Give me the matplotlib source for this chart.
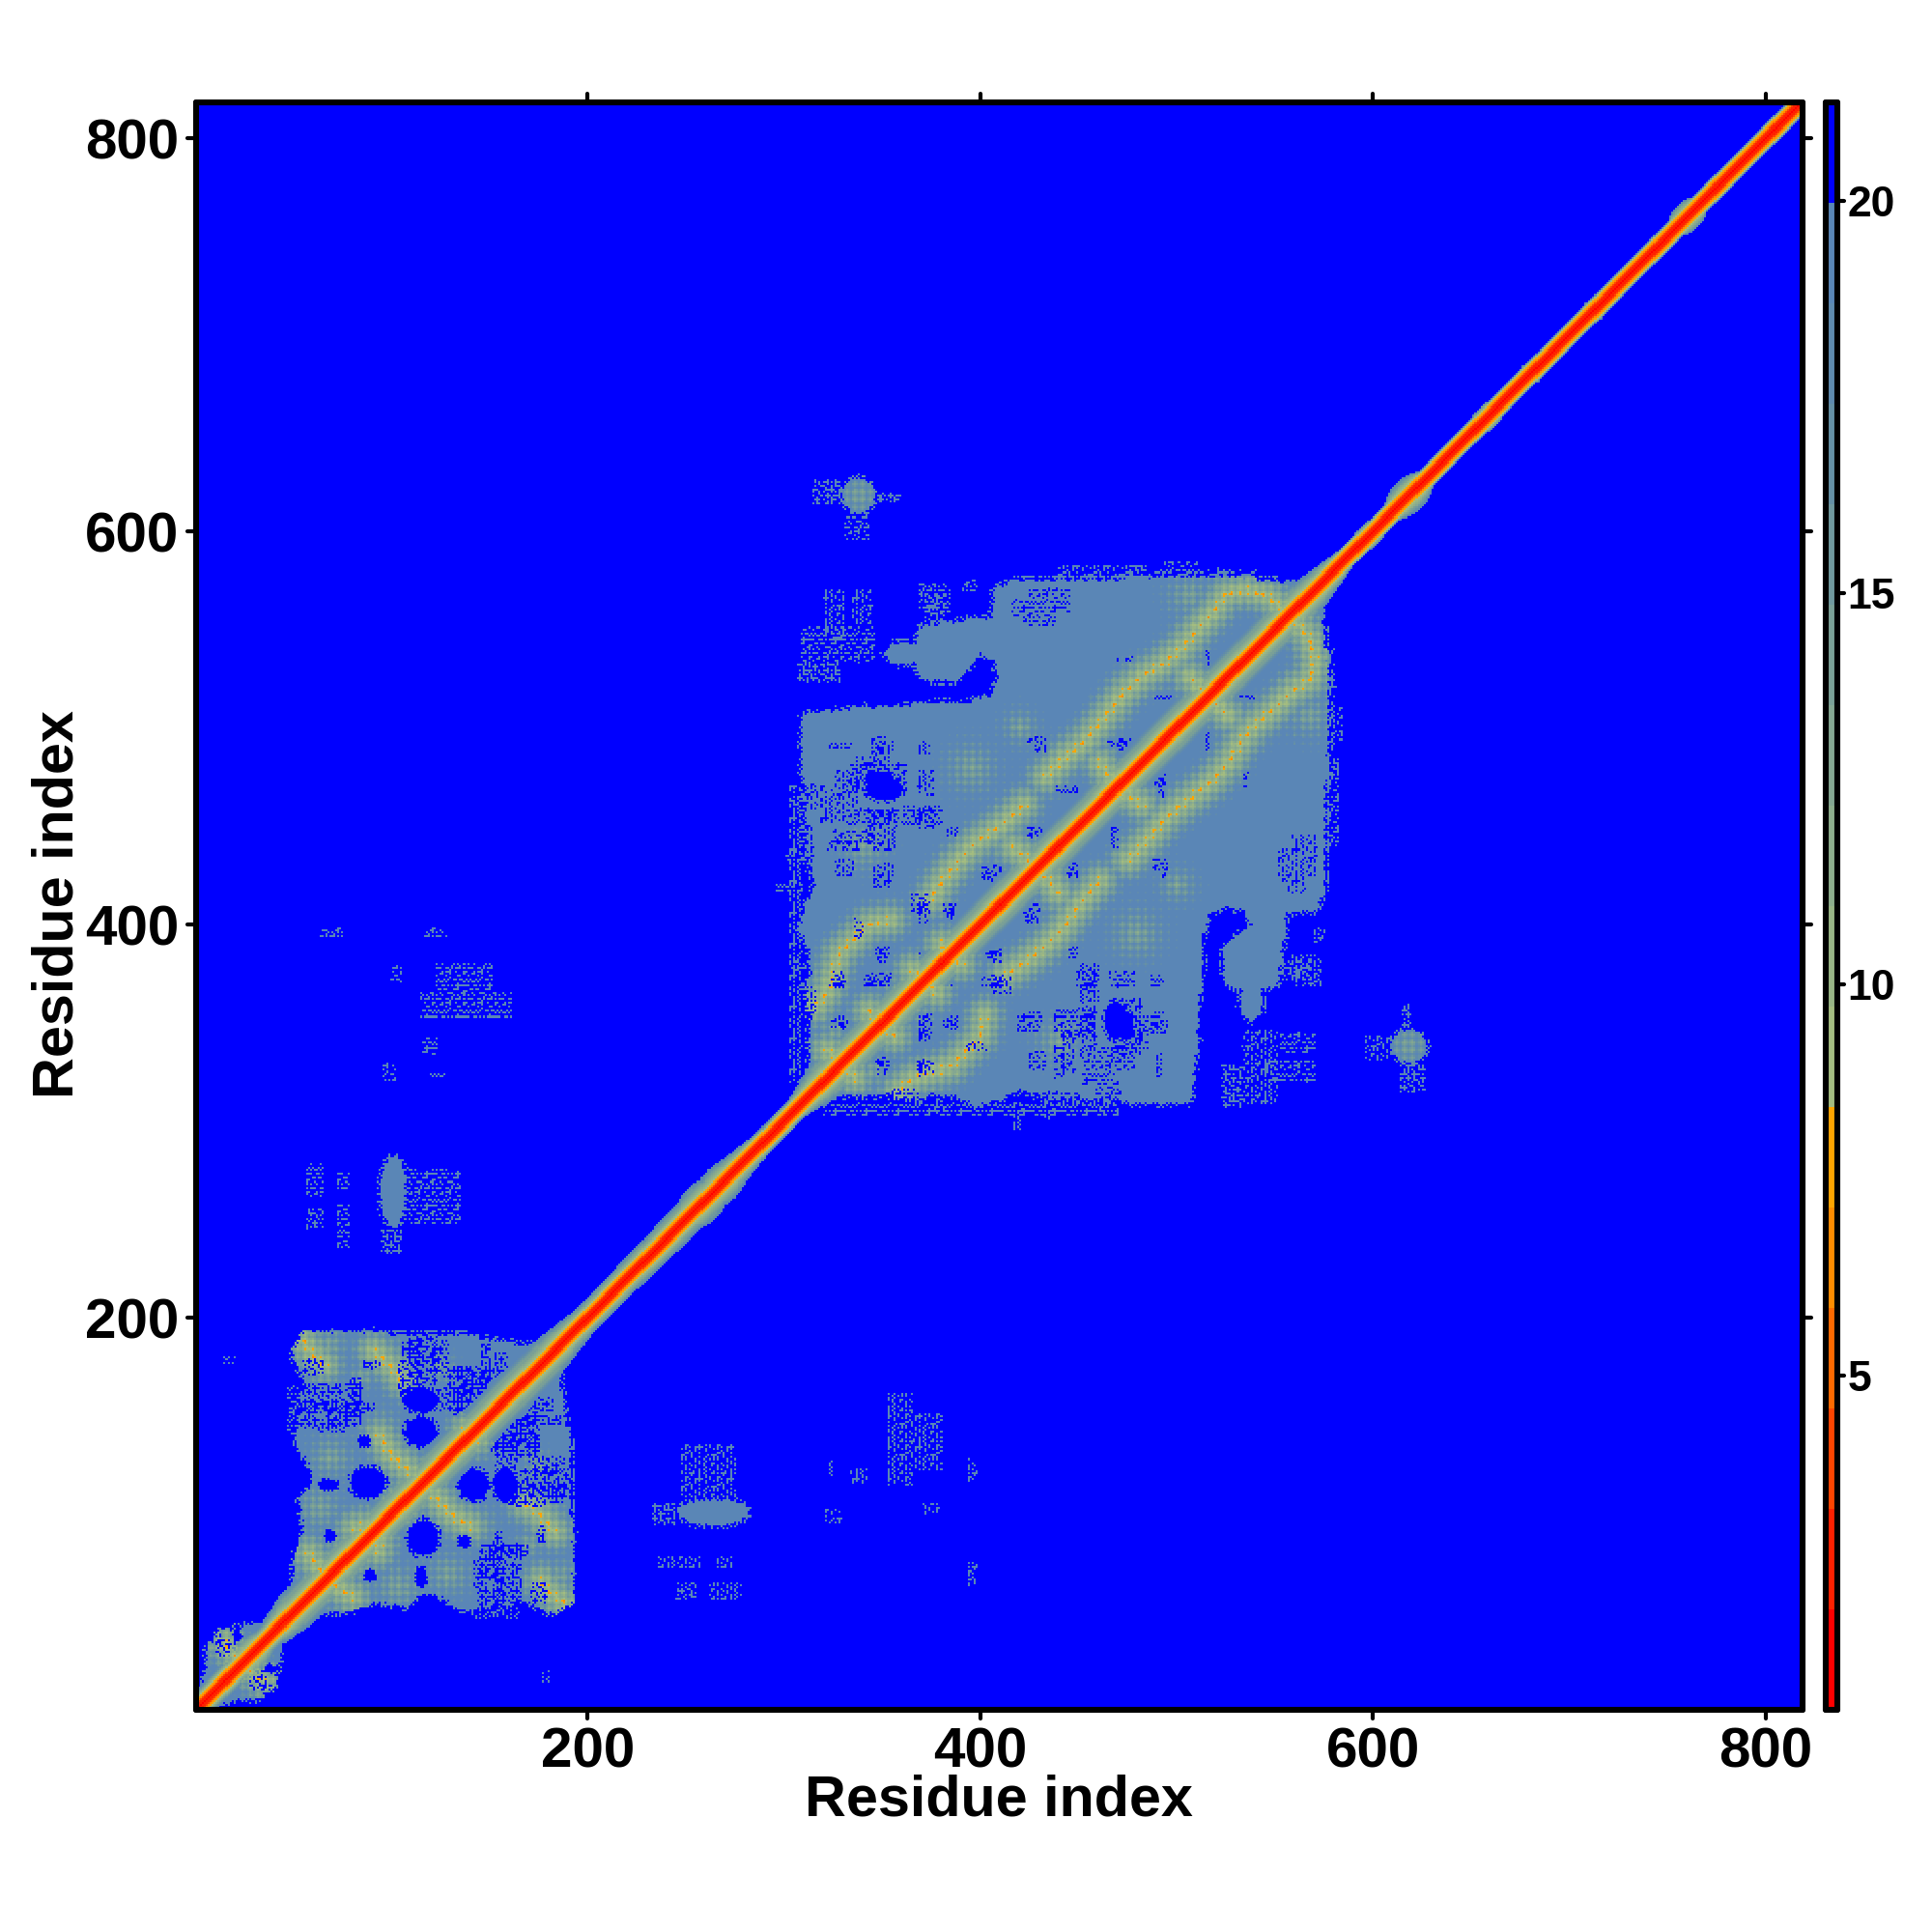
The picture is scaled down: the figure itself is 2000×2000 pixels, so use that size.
import numpy as np
import matplotlib
matplotlib.use("Agg")
import matplotlib.pyplot as plt
from matplotlib.colors import ListedColormap, BoundaryNorm
from matplotlib.markers import MarkerStyle
from matplotlib.path import Path

plt.rcParams['font.family'] = ['Liberation Sans', 'DejaVu Sans']

n_residues = 819
x_ticks = [200, 400, 600, 800]
bar_ticks = [5, 10, 15, 20]
bar_low, bar_high = 0.73, 21.27
level_colors = ['#ff0000', '#ff2100', '#ff4500', '#ff6a00', '#ff8c00', '#ffa500',
                '#a3bc80', '#98b585', '#8dae8c', '#84a791', '#7aa096', '#70999e',
                '#6590a5', '#5f8aae', '#5a86b6', '#0000ff']

# contact domains, upper-left half, residue outlines
domain_n = [(1, 12), (5, 19), (5, 33), (12, 41), (30, 44), (40, 49), (46, 49), (46, 46)]
domain_1 = [(46, 50), (49, 65), (50, 78), (55, 94), (52, 108), (60, 116), (57, 126), (51, 135),
            (52, 152), (56, 166), (49, 181), (55, 192), (91, 193), (107, 191), (133, 192),
            (150, 189), (169, 186), (184, 188), (190, 190)]
domain_2 = [(305, 306), (312, 315), (313, 351), (310, 368), (314, 375), (312, 388), (307, 398),
            (310, 407), (315, 420), (310, 437), (311, 465), (308, 480), (309, 507), (341, 511),
            (356, 510), (369, 513), (392, 513), (405, 517), (409, 524), (407, 533), (400, 537),
            (394, 529), (388, 524), (377, 523), (369, 526), (366, 533), (356, 531), (350, 537),
            (354, 543), (367, 544), (368, 551), (392, 555), (405, 556), (407, 571), (416, 575),
            (435, 575), (454, 575), (473, 576), (501, 578), (529, 577), (574, 573), (576, 576)]
outlines = [domain_n, domain_1, domain_2]

# isolated blobs off the diagonal: centre x, centre y, radius x, radius y
blobs = [(101, 264, 7, 18), (338, 618, 9, 9)]
# lumps on the diagonal: centre, radius
diag_bumps = [(618, 13), (598, 9), (760, 11), (712, 8), (258, 15), (268, 14), (658, 9), (680, 8),
              (205, 11), (228, 11), (300, 9), (28, 14), (620, 10)]

# helical ridges, residue polylines
ridges = [
    [(546, 567), (535, 570), (525, 568), (518, 558), (510, 550), (501, 539), (491, 531), (482, 526),
     (473, 518), (463, 505), (454, 494), (444, 486), (433, 475)],
    [(422, 461), (410, 450), (397, 441), (388, 432), (379, 420), (375, 413)],
    [(354, 402), (343, 400), (333, 390), (328, 385), (322, 366), (316, 358)],
    [(506, 526), (512, 520), (521, 511), (529, 497)],
    [(461, 482), (467, 473), (482, 460)],
    [(416, 439), (422, 435), (433, 420), (442, 415)],
    [(380, 390), (388, 379)],
    [(365, 377), (375, 368)],
    [(343, 356), (358, 341)],
    [(322, 336), (343, 317)],
    [(401, 358), (397, 345), (384, 334), (363, 323), (358, 319)],
    [(546, 567), (552, 562), (560, 555), (568, 548)],
    [(55, 188), (61, 180), (66, 176)],
    [(91, 183), (102, 173), (105, 168)],
    [(94, 140), (100, 130), (109, 122)],
    [(58, 80), (64, 71), (70, 66)],
    [(104, 73), (107, 68)],
    [(123, 71), (130, 75)],
    [(81, 93), (86, 94)],
    [(138, 143), (145, 142)],
    [(15, 35), (20, 28), (27, 22)],
]

# textured areas without a clear ridge: centre x, centre y, radius
soft_patches = [(395, 479, 14), (341, 439, 12), (435, 339, 12), (506, 567, 12), (473, 407, 14), (338, 618, 11),
                (420, 500, 10), (360, 365, 14), (405, 330, 12), (325, 345, 10), (340, 325, 10),
                (68, 186, 10), (69, 129, 12), (63, 103, 13), (102, 71, 13), (125, 71, 11), (174, 103, 11),
                (174, 67, 12), (181, 130, 7), (97, 181, 12), (85, 170, 8), (140, 120, 11), (100, 110, 11),
                (62, 70, 12), (75, 85, 12), (150, 95, 10), (95, 145, 10), (125, 175, 8)]

# diagonal band: residue where a segment changes, reach of the band from the diagonal
band_start = [1, 40, 50, 180, 200, 240, 270, 290, 305, 320, 565, 585, 630, 819]
band_reach = [10, 10, 15, 15, 10, 12, 13, 8, 8, 15, 15, 8, 7, 7]

# empty holes: centre x, centre y, radius x, radius y
hole_ellipses = [(88, 116, 9, 8), (68, 115, 5, 3), (115, 142, 8, 7.5), (115, 158, 9, 6), (86, 137, 3, 3),
                 (89, 69, 3, 3), (469, 351, 6, 9), (348, 474, 7, 4), (21, 39, 2, 3), (38, 22, 2, 2)]

# noisy gaps inside the domains: centre x, centre y, half length x, half length y
gap_patches = [(426, 561, 10, 4), (427, 494, 4, 1), (348, 490, 3, 6), (328, 491, 6, 1), (444, 468, 5, 2),
               (469, 492, 5, 1), (427, 447, 3, 2), (468, 447, 1, 4), (493, 516, 4, 1), (535, 516, 4, 1),
               (491, 473, 3, 3), (535, 473, 1, 4), (491, 430, 3, 3), (369, 411, 4, 5), (384, 407, 3, 3),
               (426, 407, 4, 3), (446, 428, 2, 3), (403, 426, 2, 3), (371, 349, 2, 6), (328, 350, 4, 2),
               (350, 330, 3, 2), (371, 328, 3, 3), (384, 350, 3, 2), (350, 385, 3, 3), (405, 385, 3, 2),
               (447, 385, 2, 3), (384, 371, 2, 2), (348, 372, 7, 3), (326, 372, 3, 4), (407, 371, 6, 3),
               (490, 351, 3, 4), (490, 371, 3, 3), (454, 371, 5, 5), (472, 372, 6, 4), (429, 330, 4, 5),
               (469, 332, 9, 6), (435, 565, 10, 6), (430, 555, 8, 3), (425, 350, 6, 5), (448, 350, 10, 7),
               (480, 345, 5, 8), (460, 325, 8, 6), (345, 455, 13, 4), (370, 455, 10, 5), (335, 445, 10, 3),
               (348, 474, 14, 8), (440, 330, 2, 8), (465, 312, 6, 8), (338, 398, 2, 5), (360, 310, 8, 6),
               (432, 310, 18, 5),
               (71, 154, 20, 2), (79, 158, 2, 8), (83, 158, 2, 8), (139, 163, 12, 4), (148, 176, 2, 10),
               (156, 170, 3, 12), (112, 180, 3, 10), (169, 143, 6, 9), (178, 119, 12, 4), (157, 81, 12, 3),
               (145, 70, 3, 8), (152, 75, 6, 8), (160, 65, 6, 10), (90, 176, 4, 2), (125, 180, 4, 8),
               (135, 172, 8, 3), (132, 158, 8, 5), (157, 137, 6, 5), (165, 150, 6, 6), (170, 110, 8, 6),
               (184, 110, 4, 4), (175, 60, 4, 5), (150, 55, 6, 6), (120, 55, 4, 4), (60, 155, 8, 2),
               (70, 150, 2, 6), (32, 14, 4, 3), (10, 37, 3, 2), (34, 19, 3, 3)]

# sparse speckle: x from, x to, y from, y to, density (1 thin, 2 full)
speckles = [(369, 384, 558, 573, 1), (391, 398, 570, 575, 1), (315, 328, 614, 626, 2),
            (348, 359, 615, 619, 2), (331, 343, 596, 608, 1), (307, 328, 523, 533, 2),
            (309, 346, 533, 551, 1), (95, 105, 233, 244, 2), (109, 135, 248, 275, 1),
            (57, 65, 262, 278, 1), (57, 65, 245, 255, 2), (73, 78, 266, 274, 1), (73, 78, 235, 257, 1),
            (123, 151, 365, 380, 1), (115, 161, 353, 365, 1), (100, 105, 371, 379, 1),
            (116, 123, 334, 342, 1), (96, 102, 321, 329, 1), (120, 127, 322, 325, 1),
            (117, 128, 393, 398, 1), (64, 75, 394, 398, 1), (15, 20, 176, 180, 1),
            (494, 510, 578, 584, 1), (476, 484, 577, 582, 2), (520, 526, 577, 581, 2),
            (296, 309, 416, 421, 1), (301, 311, 433, 437, 1), (303, 311, 377, 381, 1), (304, 311, 460, 465, 1),
            (545, 570, 320, 330, 1), (553, 570, 335, 345, 1), (550, 568, 372, 382, 1),
            (574, 582, 440, 480, 1), (574, 580, 490, 540, 1), (47, 52, 140, 165, 1), (320, 470, 303, 309, 1)]

speckle_tile = ["..#...#..#....#.",
                "###.#.#####.#.#.",
                "..#...#.....#...",
                "#.....#..#.###..",
                "#.####.#.#..#..#",
                "..#....#.#......",
                ".##.#...##.#.##.",
                "..#.#....#...#..",
                "#...###.....###.",
                "..#.#...#.#..#..",
                ".###.#####.#...#",
                "..#.....#.....#.",
                "#...#.#.#..#..#.",
                ".#####..#.####..",
                ".#..#.....#.....",
                "#...#.###.#.#..#"]

# ---------------------------------------------------------------------------
size = n_residues
xx, yy = np.meshgrid(np.arange(1, size + 1), np.arange(1, size + 1))
cells = np.column_stack([xx.ravel(), yy.ravel()])
field = np.full((size, size), 21.0)

tile = np.array([[c == '#' for c in row] for row in speckle_tile])
dense = tile[yy % 16, xx % 16]
thin = dense & tile[(yy + 5) % 16, (xx + 3) % 16] | (tile[(yy + 9) % 16, xx % 16] & tile[yy % 16, (xx + 11) % 16])


def grow(m, steps=1):
    for _ in range(steps):
        g = m.copy()
        g[1:, :] |= m[:-1, :]
        g[:-1, :] |= m[1:, :]
        g[:, 1:] |= m[:, :-1]
        g[:, :-1] |= m[:, 1:]
        m = g
    return m


mask = np.zeros((size, size), bool)
for outline in outlines:
    mask |= Path(outline).contains_points(cells).reshape(size, size)
for cx, cy, rx, ry in blobs:
    mask |= ((xx - cx) / rx) ** 2 + ((yy - cy) / ry) ** 2 <= 1
mask |= mask.T
# jagged rims
outer = grow(mask, 2) & ~mask
inner = mask & grow(~mask, 1)
mask = (mask & ~(inner & thin)) | (outer & thin)
field[mask] = 19.3

lattice = np.array([-1.5, 0.0, 1.5, 0.0])
texture = lattice[xx % 4] + lattice[yy % 4]


def segment_distance(p, q):
    dx, dy = q[0] - p[0], q[1] - p[1]
    t = ((xx - p[0]) * dx + (yy - p[1]) * dy) / max(dx * dx + dy * dy, 1)
    t = np.clip(t, 0, 1)
    return np.hypot(xx - p[0] - t * dx, yy - p[1] - t * dy)


for ridge in ridges:
    for p, q in zip(ridge[:-1], ridge[1:]):
        layer = 9.5 + 0.8 * segment_distance(p, q) + texture
        field = np.where(mask, np.minimum(field, layer), field)
for cx, cy, r in soft_patches:
    layer = 14.5 + 4.5 * np.hypot(xx - cx, yy - cy) / r + texture
    field = np.where(mask, np.minimum(field, layer), field)


def paint_both(sel, value):
    field[sel | sel.T] = value


for cx, cy, rx, ry in hole_ellipses:
    rim = ((xx - cx) / rx) ** 2 + ((yy - cy) / ry) ** 2
    paint_both((rim <= 1) | ((rim <= 1.5) & dense), 21.0)
for cx, cy, hx, hy in gap_patches:
    rect = (np.abs(xx - cx) <= hx) & (np.abs(yy - cy) <= hy)
    paint_both(rect & (thin if cx > 300 else dense), 21.0)

for x0, x1, y0, y1, level in speckles:
    rect = (xx >= x0) & (xx <= x1) & (yy >= y0) & (yy <= y1)
    sel = rect & (dense if level == 2 else thin)
    sel = sel | sel.T
    field[sel] = np.minimum(field[sel], 19.3)

upper = yy >= xx
field = np.where(upper, field, field.T)

# diagonal band drawn last so that it stays whole
centre = (xx + yy) / 2
reach = np.interp(centre, band_start, band_reach)
for c, r in diag_bumps:
    reach = np.maximum(reach, r * np.clip(1 - (np.abs(centre - c) / r) ** 2, 0, 1))
offset = np.abs(xx - yy).astype(float)
t = np.clip((offset - 6.2) / np.maximum(reach - 6.2, 0.5), 0, None)
band = np.interp(offset, [0, 2.2, 3.6, 5.0, 6.2], [1.5, 3.0, 5.4, 7.6, 9.5])
band = np.where(offset > 6.2, 9.5 + 9.8 * t, band)
band[offset > np.maximum(reach, 7)] = 21.0
field = np.minimum(field, band)

levels = np.linspace(bar_low, bar_high, len(level_colors) + 1)
cmap = ListedColormap(level_colors)
norm = BoundaryNorm(levels, cmap.N)

fig = plt.figure(figsize=(10, 10), dpi=200)
W = H = 2000.0
ax = fig.add_axes([202.5 / W, 1 - 1770 / H, 1664 / W, 1664.5 / H])
ax.imshow(field, origin='lower', extent=(0.5, size + 0.5, 0.5, size + 0.5), cmap=cmap, norm=norm,
          interpolation='nearest', aspect='auto')
ax.set_xlim(0.3, 819)
ax.set_ylim(0.5, 818.5)
ax.set_xticks(x_ticks)
ax.set_yticks(x_ticks)
ax.tick_params(top=True, right=True, length=3.2, width=1.5, labelsize=21, pad=3)
for label in ax.get_xticklabels() + ax.get_yticklabels():
    label.set_fontweight('bold')

cax = fig.add_axes([1889.5 / W, 1 - 1770 / H, 12 / W, 1664.5 / H])
cax.pcolormesh([0, 1], levels, np.arange(len(level_colors)).reshape(-1, 1),
               cmap=cmap, vmin=-0.5, vmax=len(level_colors) - 0.5)
cax.set_ylim(bar_low, bar_high)
cax.set_xticks([])
cax.yaxis.tick_right()
cax.set_yticks(bar_ticks)
cax.tick_params(axis='y', length=2.4, width=1.5, labelsize=16, pad=1.5)
for label in cax.get_yticklabels():
    label.set_fontweight('bold')

for a, lw in ((ax, 2.2), (cax, 2.2)):
    for spine in a.spines.values():
        spine.set_linewidth(lw)
        spine.set_capstyle('round')
    for line in a.xaxis.get_ticklines() + a.yaxis.get_ticklines():
        line.set_marker(MarkerStyle(line.get_marker(), capstyle='round'))

fig.text(1034 / W, 1 - 1864 / H, 'Residue index', ha='center', va='center', fontsize=21.4, fontweight='bold')
fig.text(60 / W, 1 - 936 / H, 'Residue index', ha='center', va='center', rotation=90, fontsize=21.4, fontweight='bold')
fig.savefig('out.png', dpi=200)
